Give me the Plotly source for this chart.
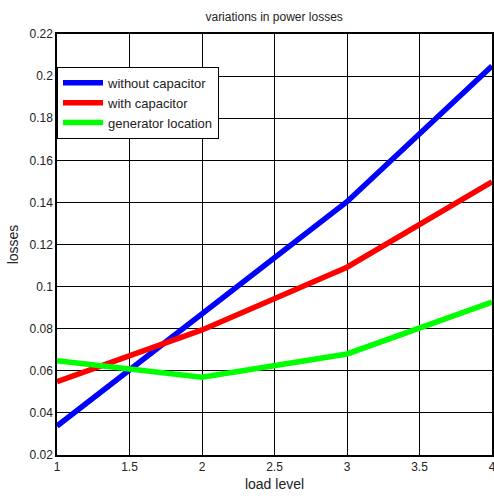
import plotly.graph_objects as go

load_level = [1, 2, 3, 4]
without_capacitor = [0.0338, 0.087, 0.1403, 0.2048]
with_capacitor = [0.0548, 0.0794, 0.1092, 0.1498]
generator_location = [0.0648, 0.0569, 0.068, 0.0927]

series = [
    ("without capacitor", without_capacitor, "#0000ff"),
    ("with capacitor", with_capacitor, "#ff0000"),
    ("generator location", generator_location, "#00ff00"),
]

fig = go.Figure()
for name, vals, col in series:
    fig.add_trace(go.Scatter(x=load_level, y=vals, mode="lines", name=name,
                             line=dict(color=col, width=5.5)))

font_family = "Liberation Sans, Arial, sans-serif"
axis_common = dict(showgrid=True, gridcolor="black", gridwidth=1,
                   showline=True, linecolor="black", linewidth=1.5, mirror=True,
                   zeroline=False, ticks="", automargin=False,
                   ticklabeloverflow="allow",
                   tickfont=dict(size=12, color="#222"))

fig.update_layout(
    width=494, height=498,
    margin=dict(l=57, r=2, t=34, b=43),
    paper_bgcolor="white", plot_bgcolor="white",
    font=dict(family=font_family, size=12, color="#222"),
    title=dict(text="variations in power losses", x=0.555, xanchor="center",
               y=0.966, yanchor="middle", font=dict(size=12)),
    xaxis=dict(range=[1, 4], dtick=0.5, tick0=1,
               title=dict(text="load level", standoff=6), **axis_common),
    yaxis=dict(range=[0.02, 0.22], dtick=0.02, tick0=0.02, tickformat="~g",
               title=dict(text="losses", standoff=8), **axis_common),
    legend=dict(x=0, y=0.922, xanchor="left", yanchor="top",
                bgcolor="white", bordercolor="black", borderwidth=1,
                font=dict(size=13), itemwidth=40,
                tracegroupgap=0),
    showlegend=True,
)

fig.write_html("out.html", config={"displayModeBar": False},
               post_script="document.body.style.margin='0px';")
